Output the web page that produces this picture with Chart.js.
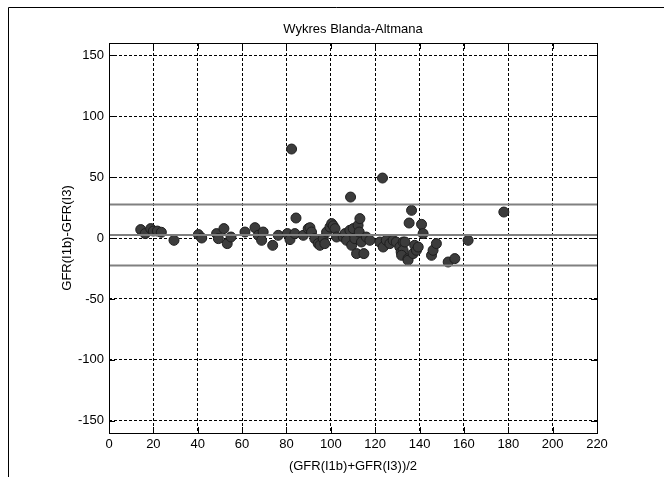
<!DOCTYPE html>
<html>
<head>
<meta charset="utf-8">
<script src="https://cdn.jsdelivr.net/npm/chart.js@4/dist/chart.umd.min.js"></script>
<style>
  html, body { margin: 0; padding: 0; background: #fff; }
  canvas { display: block; }
</style>
</head>
<body>
<canvas id="baChart" width="664" height="477"></canvas>
<script>
// mean of the two methods (x) and their difference (y)
const meanGfr = [
  14.3, 16.3, 18.8, 20, 21.8, 23.6, 29.3, 40.3, 41.8, 48.5,
  49.3, 51.8, 53.3, 55, 61.3, 65.8, 67.3, 69.5, 68.8, 73.8,
  76.3, 80.4, 81.6, 82.3, 84.3, 83.8, 87.6, 89.8, 90.6, 91.3,
  92.8, 94.3, 95.1, 96.6, 97.3, 98.1, 99.6, 100.4, 101.1, 101.9,
  102.6, 105.6, 106.4, 107.1, 108.6, 108.9, 109.4, 110.1, 110.8, 112.3,
  113.1, 112.8, 113.8, 111.6, 114.9, 116, 117.6, 122.1, 123.3, 123.6,
  125, 126.6, 128.1, 129.5, 131.1, 131.7, 132.6, 132.6, 131.9, 133.4,
  134.8, 134.8, 135.3, 136.4, 137.8, 137.1, 138.6, 139.4, 140.9, 141.6,
  145.4, 146.1, 147.6, 152.9, 155.9, 161.9, 178
];
const diffGfr = [
  6.9, 3.6, 7.7, 5.7, 5.7, 4.7, -1.9, 2.8, 0, 3.6,
  -0.5, 7.7, -4.6, 0.8, 4.9, 8.5, 2.2, 4.9, -1.9, -6.0,
  2.2, 3.6, -1.3, 73, 16.4, 3.6, 2.2, 7.7, 8.5, 4.9,
  -0.5, -4.6, -6, -0.5, -4.6, 4.9, 9, 11.8, 10, 7.7,
  0.8, 0.8, 3.6, -1.9, 6.3, 33.6, -6, 7.7, -0.5, 10.4,
  15.9, 4.9, -3.3, -12.8, -12.8, 0.8, -1.9, -3.3, 49.2, -7.4,
  -1.9, -4.6, -1.9, -3.3, -7.4, -11.5, -3.3, -10.1, -14.2, -3.3,
  -16.9, -18.3, 12.3, 22.7, -6, -12.8, -10.1, -7.4, 11.2, 3.6,
  -14.2, -10.1, -4.6, -19.7, -16.9, -1.9, 21.3
];
const meanDiff = 2.4;
const upperLimit = 27.4;
const lowerLimit = -22.6;
const xTicks = [0, 20, 40, 60, 80, 100, 120, 140, 160, 180, 200, 220];
const yTicks = [-150, -100, -50, 0, 50, 100, 150];

const chartTitle = "Wykres Blanda-Altmana";
const xTitle = "(GFR(I1b)+GFR(I3))/2";
const yTitle = "GFR(I1b)-GFR(I3)";

const FAMILY = "'Liberation Sans', Arial, sans-serif";
const FONT = "13px " + FAMILY;

function hLine(y) {
  return [{ x: xTicks[0], y: y }, { x: xTicks[xTicks.length - 1], y: y }];
}

// frame, inner tick marks and texts in the matlab look
const matlabFrame = {
  id: "matlabFrame",
  afterDraw(chart) {
    const ctx = chart.ctx;
    const a = chart.chartArea;
    const xs = chart.scales.x;
    const ys = chart.scales.y;
    ctx.save();
    ctx.strokeStyle = "#000";
    ctx.lineWidth = 1;
    ctx.setLineDash([]);

    // outer figure edge
    ctx.beginPath();
    ctx.moveTo(8.5, 477);
    ctx.lineTo(8.5, 7.5);
    ctx.lineTo(664, 7.5);
    ctx.stroke();

    // axes box
    ctx.strokeRect(Math.round(a.left) + 0.5, Math.round(a.top) + 0.5,
      Math.round(a.right - a.left), Math.round(a.bottom - a.top));

    // ticks pointing inwards
    const len = 6;
    ctx.beginPath();
    xTicks.forEach((v) => {
      const px = Math.round(xs.getPixelForValue(v)) + 0.5;
      ctx.moveTo(px, a.top);
      ctx.lineTo(px, a.top + len);
      ctx.moveTo(px, a.bottom);
      ctx.lineTo(px, a.bottom - len);
    });
    yTicks.forEach((v) => {
      const py = Math.round(ys.getPixelForValue(v)) + 0.5;
      ctx.moveTo(a.left, py);
      ctx.lineTo(a.left + len, py);
      ctx.moveTo(a.right, py);
      ctx.lineTo(a.right - len, py);
    });
    ctx.stroke();

    ctx.fillStyle = "#000";
    ctx.font = FONT;
    ctx.textAlign = "center";
    ctx.textBaseline = "middle";
    const cx = (a.left + a.right) / 2;
    ctx.fillText(chartTitle, cx, 29);
    ctx.fillText(xTitle, cx, 466);
    ctx.translate(67, (a.top + a.bottom) / 2);
    ctx.rotate(-Math.PI / 2);
    ctx.fillText(yTitle, 0, 0);
    ctx.restore();
  }
};

const ctx = document.getElementById("baChart").getContext("2d");
new Chart(ctx, {
  type: "scatter",
  data: {
    datasets: [
      {
        type: "line",
        data: hLine(upperLimit),
        borderColor: "#808080",
        borderWidth: 2,
        pointRadius: 0,
        order: 0,
      },
      {
        type: "line",
        data: hLine(meanDiff),
        borderColor: "#808080",
        borderWidth: 2,
        pointRadius: 0,
        order: 0,
      },
      {
        type: "line",
        data: hLine(lowerLimit),
        borderColor: "#808080",
        borderWidth: 2,
        pointRadius: 0,
        order: 0,
      },
      {
        data: meanGfr.map((x, i) => ({ x: x, y: diffGfr[i] })),
        backgroundColor: "#3c3c3c",
        borderColor: "#1e1e1e",
        borderWidth: 1,
        pointRadius: 5,
        order: 1,
      },
    ],
  },
  options: {
    responsive: false,
    animation: false,
    events: [],
    layout: { padding: { left: 0, top: 43, right: 67, bottom: 0 } },
    plugins: {
      legend: { display: false },
      tooltip: { enabled: false },
    },
    scales: {
      x: {
        type: "linear",
        min: 0,
        max: 220,
        afterBuildTicks: (s) => { s.ticks = xTicks.map((v) => ({ value: v })); },
        afterFit: (s) => { s.height = 44; },
        ticks: {
          color: "#000",
          font: { family: FAMILY, size: 13 },
          padding: 4,
          maxRotation: 0,
          autoSkip: false,
        },
        grid: { color: "#000", lineWidth: 1, drawTicks: false },
        border: { display: false, dash: [3, 2] },
      },
      y: {
        type: "linear",
        min: -160,
        max: 160,
        afterBuildTicks: (s) => { s.ticks = yTicks.map((v) => ({ value: v })); },
        afterFit: (s) => { s.width = 109; },
        ticks: {
          color: "#000",
          font: { family: FAMILY, size: 13 },
          padding: 5,
          autoSkip: false,
        },
        grid: { color: "#000", lineWidth: 1, drawTicks: false },
        border: { display: false, dash: [3, 2] },
      },
    },
  },
  plugins: [matlabFrame],
});
</script>
</body>
</html>
